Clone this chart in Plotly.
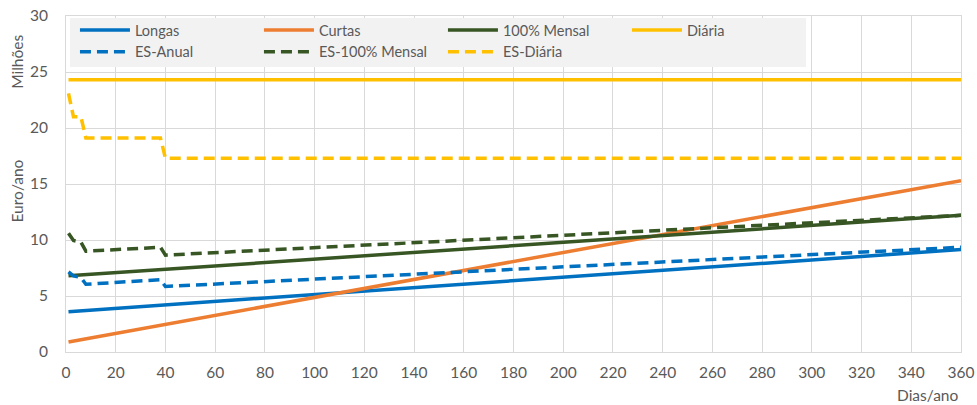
import plotly.graph_objects as go

# Days of the year at which each series is evaluated
days_linear = [1, 360]
days_es = [1, 3, 6, 8, 38, 40, 360]

# Annual cost (millions of euro) per tariff option
longas = [3.6, 9.15]
curtas = [0.9, 15.3]
mensal_100 = [6.8, 12.2]
diaria = [24.3, 24.3]

es_anual = [7.15, 6.8, 6.65, 6.05, 6.45, 5.85, 9.35]
es_mensal_100 = [10.6, 9.95, 9.8, 9.0, 9.35, 8.65, 12.2]
es_diaria = [23.1, 21.0, 21.0, 19.1, 19.1, 17.3, 17.3]

x_ticks = list(range(0, 361, 20))
y_ticks = list(range(0, 31, 5))

BLUE = "#0070C0"
ORANGE = "#ED7D31"
GREEN = "#375623"
GOLD = "#FFC000"
TEXT = "#595959"
GRID = "#D9D9D9"
FONT = "Lato, Noto Sans, sans-serif"
LW = 3.5
DASH = "11px,6px"

series = [
    ("Longas", days_linear, longas, BLUE, "solid"),
    ("Curtas", days_linear, curtas, ORANGE, "solid"),
    ("100% Mensal", days_linear, mensal_100, GREEN, "solid"),
    ("Diária", days_linear, diaria, GOLD, "solid"),
    ("ES-Anual", days_es, es_anual, BLUE, DASH),
    ("ES-100% Mensal", days_es, es_mensal_100, GREEN, DASH),
    ("ES-Diária", days_es, es_diaria, GOLD, DASH),
]

fig = go.Figure()
for name, xs, ys, color, dash in series:
    fig.add_trace(go.Scatter(
        x=xs, y=ys, name=name, mode="lines",
        line=dict(color=color, width=LW, dash=dash),
    ))

fig.update_layout(
    width=977, height=405,
    margin=dict(l=66, r=16, t=16, b=53, autoexpand=False),
    paper_bgcolor="white", plot_bgcolor="white",
    font=dict(family=FONT, size=15, color=TEXT),
    showlegend=True,
    legend=dict(
        orientation="h",
        x=0.0100, y=1.006, xanchor="left", yanchor="top",
        bgcolor="rgba(0,0,0,0)",
        entrywidth=119, entrywidthmode="pixels",
        itemwidth=50,
        font=dict(family=FONT, size=14.5, color=TEXT),
        traceorder="normal",
        tracegroupgap=0,
    ),
    # grey panel behind the legend entries
    shapes=[
        dict(type="rect", xref="paper", yref="paper",
             x0=0.0045, x1=0.8268, y0=0.848, y1=0.994,
             fillcolor="#F2F2F2", line=dict(width=0), layer="above"),
    ],
    xaxis=dict(
        range=[0, 360], tickvals=x_ticks, ticktext=[str(v) for v in x_ticks],
        showgrid=True, gridcolor=GRID, gridwidth=1,
        showline=True, linecolor=GRID, linewidth=1, mirror=True,
        zeroline=False, ticks="", ticklabelstandoff=6, automargin=False,
        tickfont=dict(family=FONT, size=15.5, color=TEXT),
    ),
    yaxis=dict(
        range=[0, 30], tickvals=y_ticks, ticktext=[str(v) for v in y_ticks],
        showgrid=True, gridcolor=GRID, gridwidth=1,
        showline=True, linecolor=GRID, linewidth=1, mirror=True,
        zeroline=False, ticks="", ticklabelstandoff=14, automargin=False,
        tickfont=dict(family=FONT, size=15.5, color=TEXT),
    ),
    annotations=[
        dict(text="Milhões", xref="paper", yref="paper", x=-0.055, y=0.863,
             xanchor="center", yanchor="middle", textangle=-90, showarrow=False,
             font=dict(family=FONT, size=15.5, color=TEXT)),
        dict(text="Euro/ano", xref="paper", yref="paper", x=-0.055, y=0.48,
             xanchor="center", yanchor="middle", textangle=-90, showarrow=False,
             font=dict(family=FONT, size=15.5, color=TEXT)),
        dict(text="Dias/ano", xref="paper", yref="paper", x=1.0, y=-0.128,
             xanchor="right", yanchor="middle", showarrow=False,
             font=dict(family=FONT, size=15.5, color=TEXT)),
    ],
)

fig.write_html("out.html")
